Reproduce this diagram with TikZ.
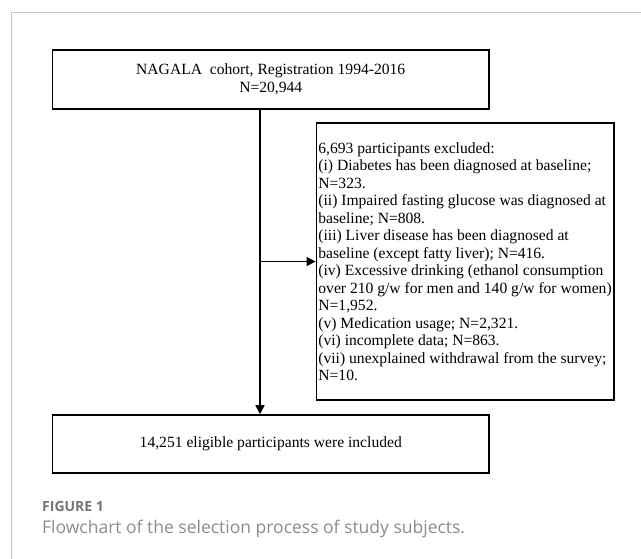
\documentclass[tikz,border=0pt]{standalone}
\usepackage{fontspec}
\setmainfont{Liberation Serif}
\newfontfamily\capfont{Open Sans}
\usetikzlibrary{arrows.meta,positioning}

\definecolor{framegray}{HTML}{C4C4C4}
\definecolor{labelgray}{HTML}{757575}
\definecolor{captiongray}{HTML}{8C8C8C}

\tikzset{
  flowbox/.style={draw, line width=1.6pt, inner sep=2pt, font=\fontsize{15.6}{17.5}\selectfont},
  flowarrow/.style={line width=1.6pt, -{Triangle[length=9pt,width=9pt]}},
}

\begin{document}
\begin{tikzpicture}[x=1pt, y=-1pt]
\useasboundingbox (0,0) rectangle (641,559);

% page frame
\draw[line width=1pt, draw=framegray] (11.7,559) -- (11.7,12.7) -- (641,12.7);

\node[flowbox, minimum width=436.5pt, minimum height=59pt, align=center] (cohort) at (270.75,79.5)
  {NAGALA\ \ cohort, Registration 1994-2016\\N=20,944};

\node[flowbox, minimum width=297.5pt, minimum height=276.5pt, align=left, anchor=north west] (excluded) at (315.5,122.5)
  {6,693 participants excluded:\\
   (i) Diabetes has been diagnosed at baseline;\\
   N=323.\\
   (ii) Impaired fasting glucose was diagnosed at\\
   baseline; N=808.\\
   (iii) Liver disease has been diagnosed at\\
   baseline (except fatty liver); N=416.\\
   (iv) Excessive drinking (ethanol consumption\\
   over 210 g/w for men and 140 g/w for women)\\
   N=1,952.\\
   (v) Medication usage; N=2,321.\\
   (vi) incomplete data; N=863.\\
   (vii) unexplained withdrawal from the survey;\\
   N=10.};

\node[flowbox, minimum width=436.5pt, minimum height=58pt] (included) at (270.75,444)
  {14,251 eligible participants were included};

% trunk of the flow
\coordinate (trunk) at (260,0);
\draw[flowarrow] (cohort.south -| trunk) -- (included.north -| trunk);
\draw[flowarrow] (excluded.west -| trunk) -- (excluded.west);

% caption
\node[anchor=west, inner sep=0, text=labelgray, font=\capfont\bfseries\fontsize{14}{16}\selectfont] (figlabel) at (42,506) {FIGURE 1};
\node[anchor=west, inner sep=0, text=captiongray, font=\capfont\fontsize{17.5}{20}\selectfont] (figcaption) at (42,529)
  {Flowchart of the selection process of study subjects.};

\end{tikzpicture}
\end{document}
